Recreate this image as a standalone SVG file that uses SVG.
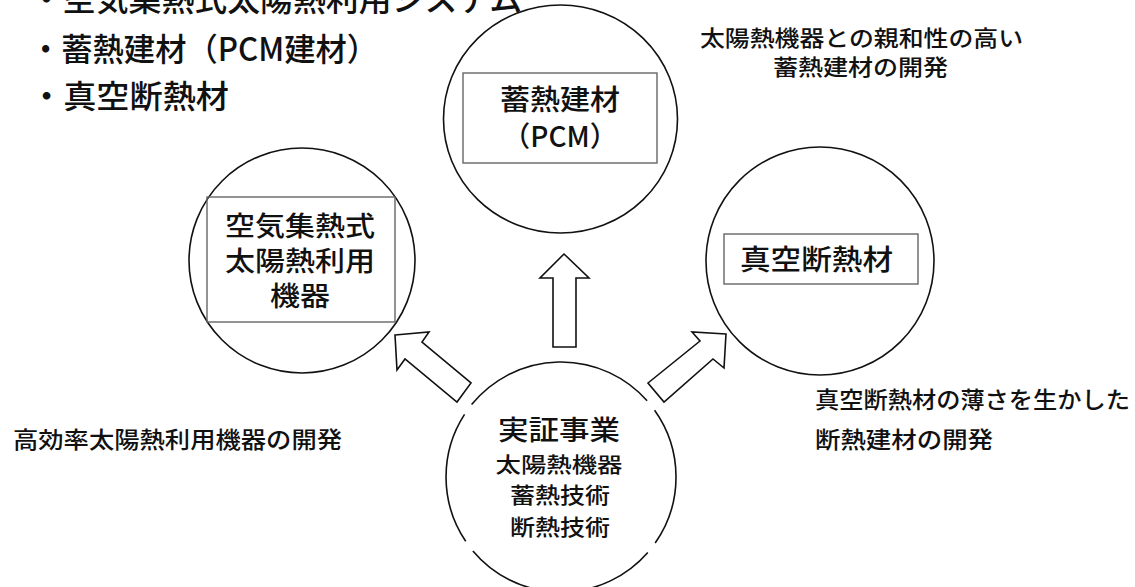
<svg xmlns="http://www.w3.org/2000/svg" width="1135" height="587" viewBox="0 0 1135 587">
<style>
  text { font-family: "Noto Sans CJK JP", "Noto Sans", sans-serif; fill: #111; font-weight: 500; }
  .circ { fill: none; stroke: #111; stroke-width: 1.6; }
  .box { fill: none; stroke: #666; stroke-width: 1.4; }
  .arrow { fill: #fff; stroke: #111; stroke-width: 1.6; stroke-linejoin: miter; }
  .list { font-size: 32px; }
  .note { font-size: 22px; }
  .lbl { font-size: 28px; text-anchor: middle; }
</style>
<rect width="1135" height="587" fill="#fff"/>
<g id="list">
  <text class="list" x="30" y="11" textLength="492" lengthAdjust="spacingAndGlyphs">・空気集熱式太陽熱利用システム</text>
  <text class="list" x="30" y="61" textLength="348" lengthAdjust="spacingAndGlyphs">・蓄熱建材（PCM建材）</text>
  <text class="list" x="30" y="108" textLength="199" lengthAdjust="spacingAndGlyphs">・真空断熱材</text>
</g>
<g id="node-pcm">
  <ellipse class="circ" cx="560.5" cy="119" rx="117" ry="114"/>
  <rect class="box" x="463" y="73" width="194" height="90"/>
  <text class="lbl" x="560" y="110" textLength="120" lengthAdjust="spacingAndGlyphs">蓄熱建材</text>
  <text class="lbl" x="560" y="147">（PCM）</text>
</g>
<g id="node-air">
  <ellipse class="circ" cx="302" cy="260.5" rx="113" ry="112.5"/>
  <rect class="box" x="207" y="197" width="188" height="125"/>
  <text class="lbl" x="300" y="236" style="font-size:27px" textLength="150" lengthAdjust="spacingAndGlyphs">空気集熱式</text>
  <text class="lbl" x="300" y="271" style="font-size:27px" textLength="150" lengthAdjust="spacingAndGlyphs">太陽熱利用</text>
  <text class="lbl" x="300" y="306" style="font-size:27px" textLength="60" lengthAdjust="spacingAndGlyphs">機器</text>
</g>
<g id="node-vacuum">
  <circle class="circ" cx="820" cy="261" r="114"/>
  <rect class="box" x="724" y="234" width="194" height="50"/>
  <text class="lbl" x="740" y="270" style="text-anchor:start" textLength="153" lengthAdjust="spacingAndGlyphs">真空断熱材</text>
</g>
<g id="node-demo">
  <path class="circ" d="M647.8 552.5 A115 115 0 0 1 472.9 550.9 M465.7 541.3 A115 115 0 0 1 464.55 414.4 M471.6 404.6 A115 115 0 0 1 647.1 400.8 M654.6 410.2 A115 115 0 0 1 655.2 543.0"/>
  <text class="lbl" x="559" y="440" style="font-size:27px" textLength="122" lengthAdjust="spacingAndGlyphs">実証事業</text>
  <text class="lbl" x="559" y="472" style="font-size:21px" textLength="127" lengthAdjust="spacingAndGlyphs">太陽熱機器</text>
  <text class="lbl" x="560" y="503" style="font-size:22px" textLength="100" lengthAdjust="spacingAndGlyphs">蓄熱技術</text>
  <text class="lbl" x="560" y="535" style="font-size:22px" textLength="100" lengthAdjust="spacingAndGlyphs">断熱技術</text>
</g>
<g id="notes">
  <text class="note" x="700" y="46" textLength="323" lengthAdjust="spacingAndGlyphs">太陽熱機器との親和性の高い</text>
  <text class="note" x="773" y="75" textLength="175" lengthAdjust="spacingAndGlyphs">蓄熱建材の開発</text>
  <text class="note" x="13" y="448" style="font-size:23px" textLength="329" lengthAdjust="spacingAndGlyphs">高効率太陽熱利用機器の開発</text>
  <text class="note" x="815" y="408" style="font-size:23px" textLength="315" lengthAdjust="spacingAndGlyphs">真空断熱材の薄さを生かした</text>
  <text class="note" x="815" y="448" style="font-size:23px" textLength="178" lengthAdjust="spacingAndGlyphs">断熱建材の開発</text>
</g>
<g id="connectors">
  <polygon class="arrow" points="564,254 540,278 553,278 553,347 576,347 576,278 589,278"/>
  <polygon class="arrow" points="395,335 429,332 422,342 471,383 457,402 405,359 397,370"/>
  <polygon class="arrow" points="726,334 692,332 700,341 648,383 664,402 713,359 724,368"/>
</g>
</svg>
